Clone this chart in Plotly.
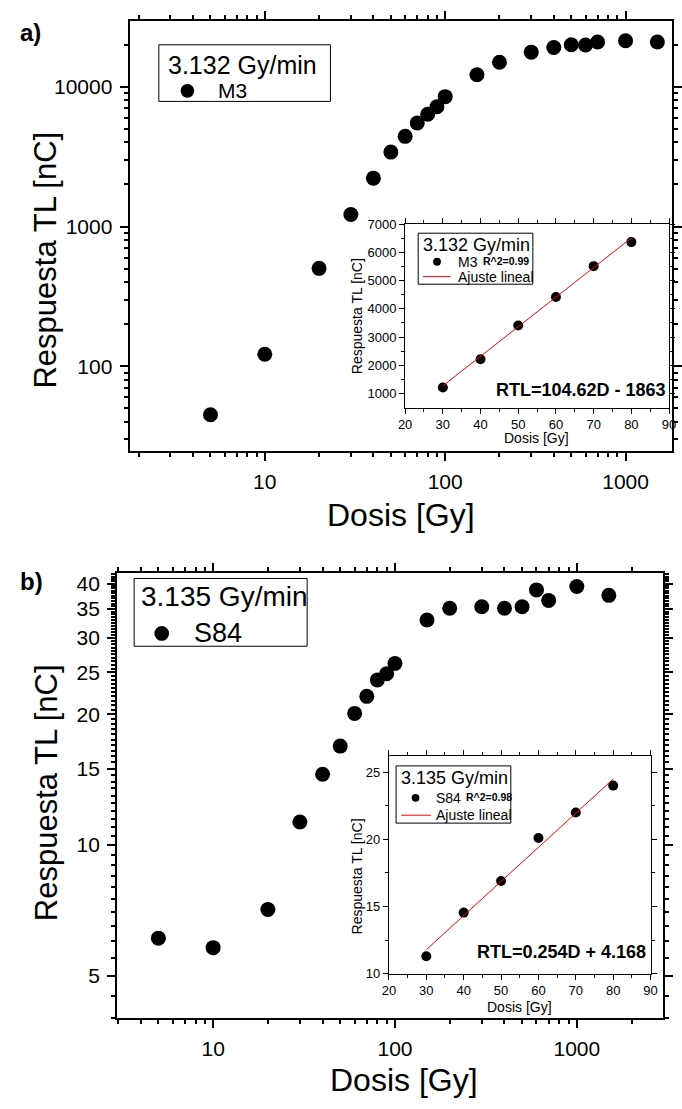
import plotly.graph_objects as go

# ---------------- data ----------------
dosis = [5, 10, 20, 30, 40, 50, 60, 70, 80, 90, 100, 150, 200, 300, 400, 500, 600, 700, 1000, 1500]

# M3 dosimeter, 3.132 Gy/min  (TL response in nC)
tl_m3 = [45, 122, 502, 1220, 2220, 3410, 4420, 5510, 6360, 7190, 8500,
         12200, 15000, 17700, 19100, 20000, 19900, 20900, 21350, 20900]

# S84 dosimeter, 3.135 Gy/min  (TL response in nC)
tl_s84 = [6.1, 5.8, 7.1, 11.3, 14.55, 16.9, 20.1, 22.0, 24.0, 24.8, 26.2,
          33.0, 35.1, 35.4, 35.1, 35.4, 38.7, 36.6, 39.4, 37.6]

# linear-region fits (doses 30..80 Gy)
fit_slice = slice(3, 9)
fit_m3 = dict(slope=104.62, intercept=-1863, r2="0.99")
fit_s84 = dict(slope=0.254, intercept=4.168, r2="0.98")

rate_m3 = "3.132 Gy/min"
rate_s84 = "3.135 Gy/min"

# ---------------- geometry helpers ----------------
W, H = 682, 1109
FONT = "Arial, Liberation Sans, sans-serif"


def px(x):
    return x / W


def py(y):
    return 1 - y / H


def axis_style(**kw):
    base = dict(
        showline=True, linecolor="black", mirror="ticks", ticks="outside",
        tickcolor="black", showgrid=False, zeroline=False,
        tickfont=dict(family=FONT, color="black"),
    )
    base.update(kw)
    return base


fig = go.Figure()

# ---- panel a: main ----
fig.add_trace(go.Scatter(
    x=dosis, y=tl_m3, mode="markers", name="M3",
    marker=dict(color="black", size=15), xaxis="x", yaxis="y"))

# ---- panel a: inset ----
d_in = dosis[fit_slice]
fig.add_trace(go.Scatter(
    x=d_in, y=tl_m3[fit_slice], mode="markers", name="M3",
    marker=dict(color="black", size=10), xaxis="x2", yaxis="y2"))
fx = [min(d_in), max(d_in)]
fig.add_trace(go.Scatter(
    x=fx, y=[fit_m3["slope"] * v + fit_m3["intercept"] for v in fx],
    mode="lines", name="Ajuste lineal", line=dict(color="red", width=1),
    xaxis="x2", yaxis="y2"))

# ---- panel b: main ----
fig.add_trace(go.Scatter(
    x=dosis, y=tl_s84, mode="markers", name="S84",
    marker=dict(color="black", size=15), xaxis="x3", yaxis="y3"))

# ---- panel b: inset ----
fig.add_trace(go.Scatter(
    x=d_in, y=tl_s84[fit_slice], mode="markers", name="S84",
    marker=dict(color="black", size=10), xaxis="x4", yaxis="y4"))
fig.add_trace(go.Scatter(
    x=fx, y=[fit_s84["slope"] * v + fit_s84["intercept"] for v in fx],
    mode="lines", name="Ajuste lineal", line=dict(color="red", width=1),
    xaxis="x4", yaxis="y4"))

# tick sets
def dec_minor(lo, hi):
    return [m * 10 ** e for e in range(lo, hi) for m in range(2, 10)]


inset_x_major = list(range(20, 100, 10))
inset_x_minor = list(range(25, 90, 10))

main_tick = dict(ticklen=8, linewidth=2, tickwidth=2, ticklabelstandoff=3)
main_minor = dict(ticks="outside", ticklen=4, tickwidth=1.5, tickcolor="black")
inset_tick = dict(ticklen=5, linewidth=1, tickwidth=1)
inset_minor = dict(ticks="outside", ticklen=3, tickwidth=1, tickcolor="black")

b_y_major = [5, 10, 15, 20, 25, 30, 35, 40]
b_y_minor = [v / 2 for v in range(8, 85) if (v / 2) not in b_y_major]

main_font = dict(size=21, family=FONT, color="black")
inset_font = dict(size=13, family=FONT, color="black")

fig.update_layout(
    width=W, height=H,
    margin=dict(l=0, r=0, t=0, b=0),
    paper_bgcolor="white", plot_bgcolor="white",
    font=dict(family=FONT, color="black"),
    showlegend=False,
    # panel a main axes
    xaxis=axis_style(type="log", domain=[px(125.7), 1.0], range=[0.2504, 3.2574],
                     anchor="y", tickvals=[10, 100, 1000], ticktext=["10", "100", "1000"],
                     tickfont=main_font, minor=dict(main_minor, tickvals=dec_minor(0, 4)),
                     **main_tick),
    yaxis=axis_style(type="log", domain=[py(450), py(14)], range=[1.3945, 4.4721],
                     anchor="x", tickvals=[100, 1000, 10000], ticktext=["100", "1000", "10000"],
                     tickfont=main_font, minor=dict(main_minor, tickvals=dec_minor(1, 5)),
                     **main_tick),
    # panel a inset axes
    xaxis2=axis_style(domain=[px(408.3), px(679)], range=[20, 90], anchor="y2",
                      tickvals=inset_x_major, tickfont=inset_font,
                      minor=dict(inset_minor, tickvals=inset_x_minor), **inset_tick),
    yaxis2=axis_style(domain=[py(406), py(220)], range=[510, 7000], anchor="x2",
                      tickvals=list(range(1000, 8000, 1000)), tickfont=inset_font,
                      minor=dict(inset_minor, tickvals=list(range(1500, 7000, 1000))),
                      **inset_tick),
    # panel b main axes
    xaxis3=axis_style(type="log", domain=[px(113), px(672.7)], range=[0.4724, 3.4735],
                      anchor="y3", tickvals=[10, 100, 1000], ticktext=["10", "100", "1000"],
                      tickfont=main_font, minor=dict(main_minor, tickvals=dec_minor(0, 4)),
                      **main_tick),
    yaxis3=axis_style(type="log", domain=[py(1025), py(573.3)], range=[0.6011, 1.6277],
                      anchor="x3", tickvals=b_y_major, ticktext=[str(v) for v in b_y_major],
                      tickfont=main_font, minor=dict(main_minor, tickvals=b_y_minor),
                      **main_tick),
    # panel b inset axes
    xaxis4=axis_style(domain=[px(391.7), px(660)], range=[20, 90], anchor="y4",
                      tickvals=inset_x_major, tickfont=inset_font,
                      minor=dict(inset_minor, tickvals=inset_x_minor), **inset_tick),
    yaxis4=axis_style(domain=[py(980), py(759.3)], range=[10, 26.2], anchor="x4",
                      tickvals=[10, 15, 20, 25], tickfont=inset_font,
                      minor=dict(inset_minor, tickvals=[12.5, 17.5, 22.5]), **inset_tick),
)


def note(x, y, text, size, bold=False, angle=0, anchor="center"):
    fig.add_annotation(
        x=px(x), y=py(y), xref="paper", yref="paper",
        text=f"<b>{text}</b>" if bold else text,
        showarrow=False, textangle=angle, xanchor=anchor, yanchor="middle",
        font=dict(size=size, family=FONT, color="black"))


def box(x0, y0, x1, y1):
    fig.add_shape(type="rect", xref="paper", yref="paper",
                  x0=px(x0), x1=px(x1), y0=py(y1), y1=py(y0),
                  line=dict(color="black", width=1), fillcolor="white", layer="above")


def dot(cx, cy, d):
    r = d / 2
    fig.add_shape(type="circle", xref="paper", yref="paper",
                  x0=px(cx - r), x1=px(cx + r), y0=py(cy + r), y1=py(cy - r),
                  line=dict(width=0), fillcolor="black", layer="above")


def red_key(x0, x1, y):
    fig.add_shape(type="line", xref="paper", yref="paper",
                  x0=px(x0), x1=px(x1), y0=py(y), y1=py(y),
                  line=dict(color="red", width=1), layer="above")


# ---- legend keys ----
# panel a, main
box(155.7, 38.3, 331.7, 95.7)
note(163, 59, rate_m3, 25, anchor="left")
dot(185, 85, 14)
note(214, 85, "M3", 21, anchor="left")

# panel a, inset
box(421.7, 229.3, 539.3, 281)
note(425, 241.5, rate_m3, 18, anchor="left")
dot(441, 258.3, 8)
note(460, 258.5, "M3", 14, anchor="left")
note(486.5, 257, "R^2=" + fit_m3["r2"], 10.5, bold=True, anchor="left")
red_key(426.7, 455, 273.3)
note(460, 273.5, "Ajuste lineal", 14, anchor="left")

# panel b, main
box(130.4, 579.3, 307.8, 648)
note(135, 598, rate_s84, 28, anchor="left")
dot(158.7, 635, 15)
note(190, 635, "S84", 27, anchor="left")

# panel b, inset
box(399, 769.3, 516.7, 827.3)
note(402.5, 782, rate_s84, 18, anchor="left")
dot(419, 801.7, 8)
note(438, 801.7, "S84", 14, anchor="left")
note(469, 800.5, "R^2=" + fit_s84["r2"], 10.5, bold=True, anchor="left")
red_key(404.3, 435, 819.3)
note(437.5, 819.5, "Ajuste lineal", 14, anchor="left")

# panel labels
note(24, 26, "a)", 24, bold=True)
note(25, 582, "b)", 24, bold=True)

# main axis titles
note(404, 515, "Dosis [Gy]", 32)
note(40, 257, "Respuesta TL [nC]", 31, angle=-90)
note(407, 1088, "Dosis [Gy]", 32)
note(40, 797, "Respuesta TL [nC]", 31, angle=-90)

# inset axis titles
note(543.5, 437, "Dosis [Gy]", 14)
note(358.3, 313, "Respuesta TL [nC]", 14, angle=-90)
note(526, 1013.3, "Dosis [Gy]", 14)
note(359.3, 881, "Respuesta TL [nC]", 14, angle=-90)

# fit equations
note(588.5, 388.3, f"RTL={fit_m3['slope']}D - {abs(fit_m3['intercept'])}", 18, bold=True)
note(568.3, 957.7, f"RTL={fit_s84['slope']}D + {fit_s84['intercept']}", 18, bold=True)

fig.write_html("out.html")
